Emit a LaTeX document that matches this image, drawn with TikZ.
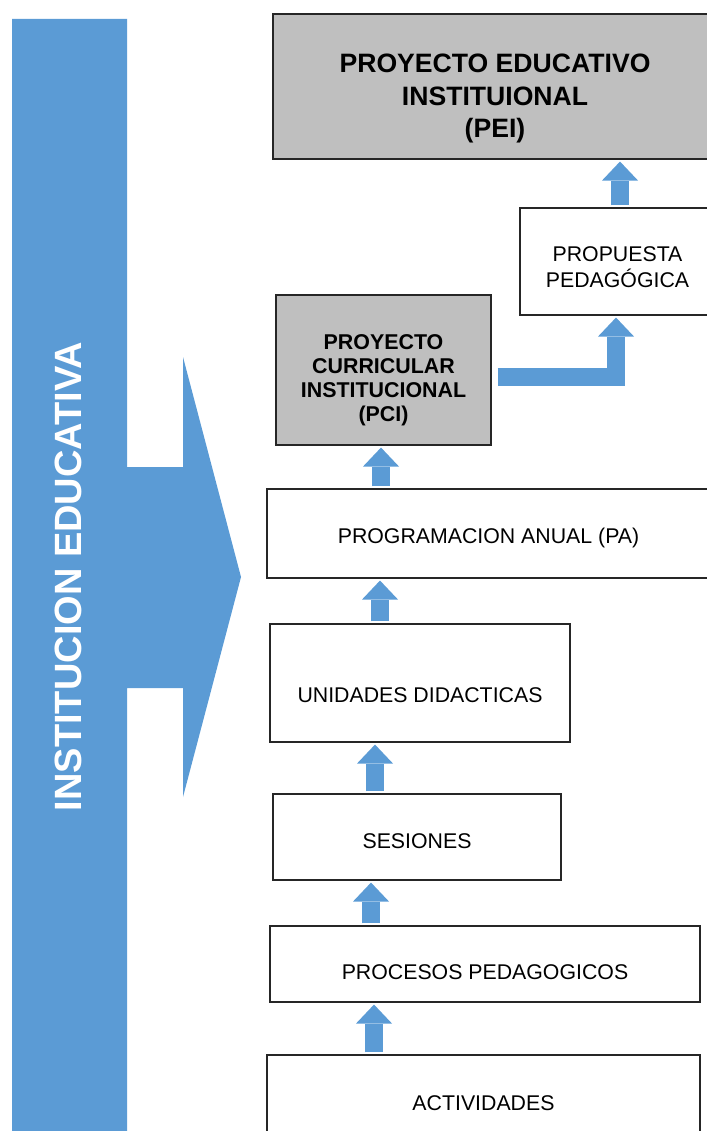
\documentclass[tikz,border=0pt]{standalone}
\usepackage{fontspec}
\setmainfont{Liberation Sans}
\usetikzlibrary{arrows.meta}
\definecolor{ieblue}{HTML}{5B9BD5}
\definecolor{iegray}{HTML}{BFBFBF}
\newcommand{\bajar}[2]{\raisebox{-#1}[\height][\depth]{\begin{tabular}{@{}c@{}}#2\end{tabular}}}
\tikzset{
  caja/.style={draw=black!85,line width=1.1pt,fill=white,inner sep=0pt,
    font=\fontsize{21.3}{24}\selectfont,text height=15.3pt,text depth=0pt},
  cajagris/.style={caja,fill=iegray,font=\fontsize{21.4}{24}\selectfont\bfseries,text height=,text depth=},
  flecha/.style={draw=ieblue,line width=18pt,shorten <=2pt,shorten >=2pt,
    -{Triangle[length=19pt 0 0,width=36pt 0 0,line width=0pt]}}
}
\begin{document}
\begin{tikzpicture}[x=1pt,y=-1pt,line join=miter]
	\useasboundingbox (0,0) rectangle (706,1131);
	
	% franja lateral con flecha
	\fill[ieblue] (12,19) -- (127,19) -- (127,467) -- (183,467) -- (183,357) -- (241,577) -- (183,797) -- (183,688) -- (127,688) -- (127,1140) -- (12,1140) -- cycle;
	\node[rotate=90,text=white,font=\fontsize{38}{40}\selectfont\bfseries] (ie) at (68,576.5) {INSTITUCION EDUCATIVA};
	
	\node[cajagris,minimum width=444pt,minimum height=145pt,font=\fontsize{26.6}{32.5}\selectfont\bfseries] (pei) at (495,86.5) {\bajar{12.5pt}{PROYECTO EDUCATIVO\\INSTITUIONAL\\(PEI)}};
	\node[caja,minimum width=195pt,minimum height=107pt,text height=,text depth=] (prop) at (617.5,261.5) {\bajar{8.4pt}{PROPUESTA\\PEDAG\'OGICA}};
	\node[cajagris,minimum width=215pt,minimum height=150pt] (pci) at (383.5,370) {\bajar{11pt}{PROYECTO\\CURRICULAR\\INSTITUCIONAL\\(PCI)}};
	\node[caja,minimum width=443pt,minimum height=89pt,text height=20.3pt] (pa) at (488.5,533.5) {PROGRAMACION ANUAL (PA)};
	\node[caja,minimum width=300pt,minimum height=118pt,text height=39.3pt] (ud) at (420,683) {UNIDADES DIDACTICAS};
	\node[caja,minimum width=288pt,minimum height=86pt,text height=23.3pt] (ses) at (417,837) {SESIONES};
	\node[caja,minimum width=430pt,minimum height=76pt,text height=31.3pt] (proc) at (485,964) {PROCESOS PEDAGOGICOS};
	\node[caja,minimum width=433pt,minimum height=96pt] (act) at (483.5,1103) {ACTIVIDADES};
	
	\foreach \de/\a/\x in {act/proc/374,proc/ses/371,ses/ud/375,ud/pa/380,pa/pci/381,prop/pei/620}
		\draw[flecha] (\de.north -| \x,0) -- (\a.south -| \x,0);
	\draw[flecha,shorten <=6pt,shorten >=2pt] (pci.east |- 0,376.5) -| (prop.south -| 616,0);
\end{tikzpicture}
\end{document}
